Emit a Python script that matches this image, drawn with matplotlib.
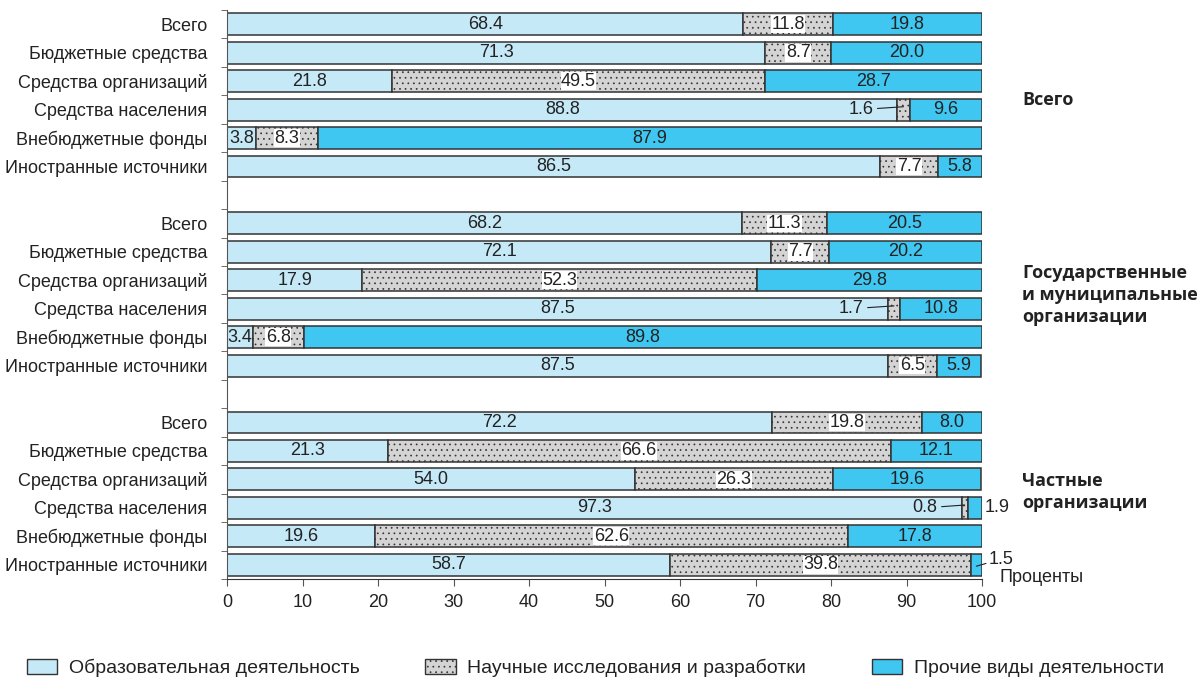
import numpy as np
import matplotlib
matplotlib.use('Agg')
import matplotlib.pyplot as plt
from matplotlib.patches import Patch

plt.rcParams['font.family'] = ['Liberation Sans Narrow', 'Liberation Sans', 'DejaVu Sans']
plt.rcParams['hatch.color'] = '#666666'
plt.rcParams['hatch.linewidth'] = 0.5

# row labels (same in every group)
rows = ['Всего', 'Бюджетные средства', 'Средства организаций',
        'Средства населения', 'Внебюджетные фонды', 'Иностранные источники']
groups = ['Всего', 'Государственные\nи муниципальные\nорганизации', 'Частные\nорганизации']

# shares, % : education / R&D / other
edu = [68.4, 71.3, 21.8, 88.8, 3.8, 86.5,
       68.2, 72.1, 17.9, 87.5, 3.4, 87.5,
       72.2, 21.3, 54.0, 97.3, 19.6, 58.7]
rnd = [11.8, 8.7, 49.5, 1.6, 8.3, 7.7,
       11.3, 7.7, 52.3, 1.7, 6.8, 6.5,
       19.8, 66.6, 26.3, 0.8, 62.6, 39.8]
oth = [19.8, 20.0, 28.7, 9.6, 87.9, 5.8,
       20.5, 20.2, 29.8, 10.8, 89.8, 5.9,
       8.0, 12.1, 19.6, 1.9, 17.8, 1.5]

legend_names = ['Образовательная деятельность', 'Научные исследования и разработки',
                'Прочие виды деятельности']

c_edu = '#c6e9f8'
c_rnd = '#d4d4d4'
c_oth = '#3fc6f1'
edge = '#333333'
tc = '#222222'

pos = [g * 7 + i for g in range(3) for i in range(6)]
edu = np.array(edu)
rnd = np.array(rnd)
oth = np.array(oth)

fig = plt.figure(figsize=(12.03, 6.81), dpi=100)
ax = fig.add_axes([227 / 1203, 1 - 579 / 681, 755 / 1203, 569 / 681])

h = 0.77
ax.barh(pos, edu, height=h, color=c_edu, edgecolor=edge, linewidth=1.1)
ax.barh(pos, rnd, left=edu, height=h, color=c_rnd, edgecolor=edge, linewidth=1.1, hatch='...')
ax.barh(pos, oth, left=edu + rnd, height=h, color=c_oth, edgecolor=edge, linewidth=1.1)

fs = 13
for k, y in enumerate(pos):
    e, r, o = edu[k], rnd[k], oth[k]
    ax.text(e / 2, y, f'{e:.1f}', ha='center', va='center', fontsize=fs, color=tc)
    if r >= 3:
        ax.text(e + r / 2, y, f'{r:.1f}', ha='center', va='center', fontsize=fs, color=tc,
                bbox=dict(facecolor='white', edgecolor='none', pad=0.3))
    else:
        ax.annotate(f'{r:.1f}', xy=(e + r / 2, y - 0.1), xytext=(e - 3.2, y),
                    ha='right', va='center', fontsize=fs, color=tc,
                    arrowprops=dict(arrowstyle='-', color=tc, lw=0.8, shrinkA=1, shrinkB=0))
    if o >= 3:
        ax.text(e + r + o / 2, y, f'{o:.1f}', ha='center', va='center', fontsize=fs, color=tc)
    elif k == 15:
        ax.text(100.4, y, f'{o:.1f}', ha='left', va='center', fontsize=fs, color=tc)
    else:
        ax.annotate(f'{o:.1f}', xy=(e + r + o / 2, y + 0.05), xytext=(100.9, y - 0.2),
                    ha='left', va='center', fontsize=fs, color=tc,
                    arrowprops=dict(arrowstyle='-', color=tc, lw=0.8, shrinkA=0, shrinkB=0))

ax.set_xlim(0, 100)
ax.set_ylim(19.5, -0.5)
ax.set_xticks(range(0, 101, 10))
ax.tick_params(axis='x', labelsize=13, length=5, color='#555555', pad=6, labelcolor=tc)
ax.set_yticks(pos)
ax.set_yticklabels(rows * 3, fontsize=13, color=tc)
ax.tick_params(axis='y', length=0, pad=14)
ax.set_yticks(np.arange(-0.5, 19.6, 1), minor=True)
ax.tick_params(axis='y', which='minor', length=4, color='#555555')
for s in ['top', 'right']:
    ax.spines[s].set_visible(False)
ax.spines['left'].set_color('#555555')
ax.spines['bottom'].set_color('#333333')

ax.text(102.3, 19.45, 'Проценты', ha='left', va='center', fontsize=13, color=tc)

group_y = [2.67, 9.52, 16.44]
for g, name in enumerate(groups):
    ax.text(105.3, group_y[g], name, ha='left', va='center', fontsize=13,
            fontweight='bold', family=['Open Sans', 'DejaVu Sans'], color=tc,
            linespacing=1.3)

handles = [Patch(facecolor=c_edu, edgecolor=edge, label=legend_names[0]),
           Patch(facecolor=c_rnd, edgecolor=edge, hatch='...', label=legend_names[1]),
           Patch(facecolor=c_oth, edgecolor=edge, label=legend_names[2])]
fig.legend(handles=handles, loc='center', bbox_to_anchor=(0.495, 1 - 668 / 681), ncol=3,
           frameon=False, fontsize=14, handlelength=1.55, handleheight=0.85,
           columnspacing=3.4, handletextpad=0.6, labelcolor=tc)

fig.savefig('out.png', dpi=100)
